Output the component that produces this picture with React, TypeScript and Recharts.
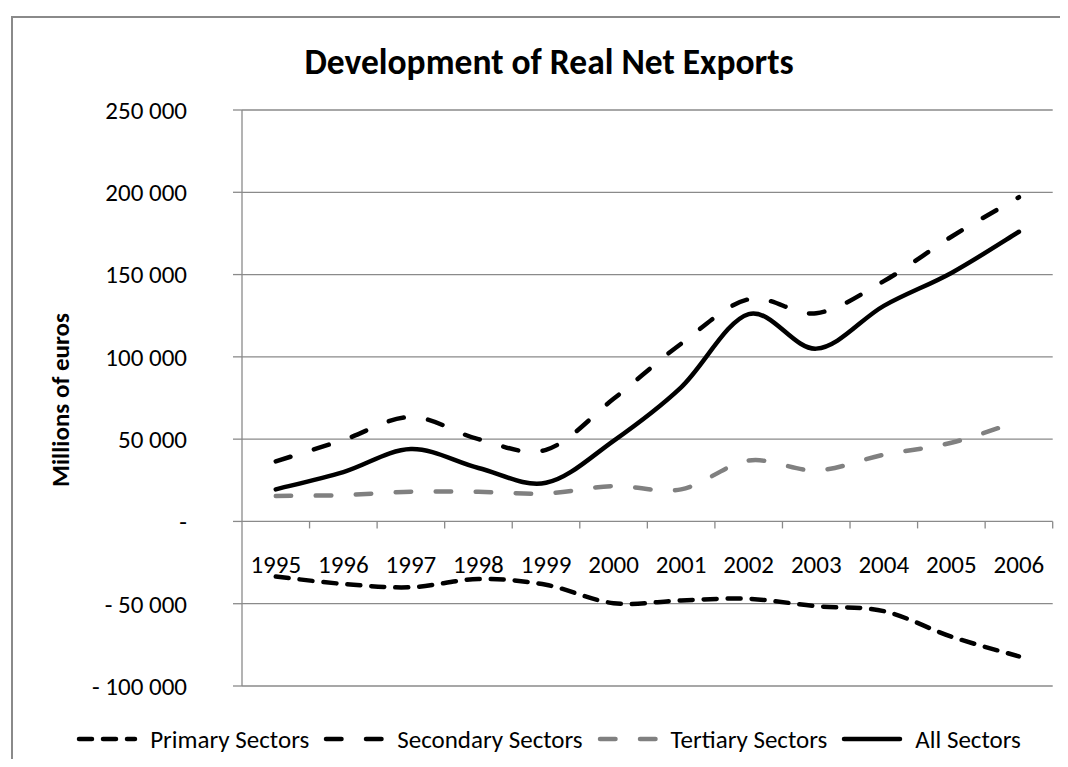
import { LineChart, Line, XAxis, YAxis, CartesianGrid, Legend } from "recharts";

const YEARS = ["1995", "1996", "1997", "1998", "1999", "2000", "2001", "2002", "2003", "2004", "2005", "2006"];
const PRIMARY = [-33500, -38000, -40000, -35000, -38500, -49700, -48000, -47000, -51500, -54500, -70000, -82000];
const SECONDARY = [36500, 49500, 63500, 50000, 43500, 74500, 108000, 135000, 126500, 146000, 173000, 197000];
const TERTIARY = [15500, 16000, 18000, 18000, 17000, 21500, 19500, 37000, 31000, 40500, 47800, 61000];
const ALL = [19500, 30000, 44000, 32500, 23500, 49000, 81500, 126000, 105000, 131000, 151000, 176000];
const Y_TICKS = [-100000, -50000, 0, 50000, 100000, 150000, 200000, 250000];

const data = YEARS.map((year, i) => ({
  year,
  primary: PRIMARY[i],
  secondary: SECONDARY[i],
  tertiary: TERTIARY[i],
  all: ALL[i],
}));

const SERIES = [
  { key: "primary", name: "Primary Sectors", color: "#000", dash: "13 11" },
  { key: "secondary", name: "Secondary Sectors", color: "#000", dash: "15.5 24.5" },
  { key: "tertiary", name: "Tertiary Sectors", color: "#808080", dash: "15.5 24.5" },
  { key: "all", name: "All Sectors", color: "#000", dash: undefined },
];

const FONT = "Carlito, Calibri, Lato, sans-serif";
const FS = 25;
const GRAY = "#8a8a8a";

const W = 1052;
const H = 751;
const MARGIN = { top: 102, right: 7.3, bottom: 13, left: 0 };
const Y_AXIS_W = 234;
const X_AXIS_H = 30;
const LEGEND_H = 30;
const PLOT_W = W - Y_AXIS_W - MARGIN.right;
const PLOT_H = H - MARGIN.top - MARGIN.bottom - X_AXIS_H - LEGEND_H;
const HALF = PLOT_W / YEARS.length / 2;
const Y_MIN = Y_TICKS[0];
const Y_MAX = Y_TICKS[Y_TICKS.length - 1];
const ZERO_Y = MARGIN.top + (PLOT_H * Y_MAX) / (Y_MAX - Y_MIN);

// smooth like excel: catmull-rom segments as cubic beziers
function excelCurve(context: any) {
  let pts: number[][] = [];
  return {
    areaStart() {},
    areaEnd() {},
    lineStart() {
      pts = [];
    },
    point(x: number, y: number) {
      pts.push([+x, +y]);
    },
    lineEnd() {
      const n = pts.length;
      if (!n) return;
      context.moveTo(pts[0][0], pts[0][1]);
      for (let i = 0; i < n - 1; i++) {
        const p0 = pts[Math.max(i - 1, 0)];
        const p1 = pts[i];
        const p2 = pts[i + 1];
        const p3 = pts[Math.min(i + 2, n - 1)];
        context.bezierCurveTo(
          p1[0] + (p2[0] - p0[0]) / 6,
          p1[1] + (p2[1] - p0[1]) / 6,
          p2[0] - (p3[0] - p1[0]) / 6,
          p2[1] - (p3[1] - p1[1]) / 6,
          p2[0],
          p2[1]
        );
      }
    },
  };
}

function formatY(v: number) {
  if (v === 0) return "-";
  const s = Math.abs(v).toString().replace(/\B(?=(\d{3})+(?!\d))/g, " ");
  return v < 0 ? "- " + s : s;
}

function YearTick(props: any) {
  const { x, payload } = props;
  return (
    <g>
      <line x1={x + HALF} x2={x + HALF} y1={ZERO_Y} y2={ZERO_Y + 7} stroke={GRAY} strokeWidth={1.3} />
      <text
        x={x}
        y={ZERO_Y + 43}
        textAnchor="middle"
        dominantBaseline="central"
        fontFamily={FONT}
        fontSize={FS}
        fill="#000"
      >
        {payload.value}
      </text>
    </g>
  );
}

function LegendContent() {
  return (
    <div
      style={{
        display: "flex",
        alignItems: "center",
        justifyContent: "center",
        height: LEGEND_H,
        fontFamily: FONT,
        fontSize: FS,
        color: "#000",
      }}
    >
      {SERIES.map((s) => (
        <div key={s.key} style={{ display: "flex", alignItems: "center", marginRight: 14 }}>
          <svg width={62} height={10}>
            <line
              x1={3}
              x2={59}
              y1={5}
              y2={5}
              stroke={s.color}
              strokeWidth={4.5}
              strokeLinecap="round"
              strokeDasharray={s.dash}
            />
          </svg>
          <span style={{ marginLeft: 12, whiteSpace: "nowrap" }}>{s.name}</span>
        </div>
      ))}
    </div>
  );
}

export default function App() {
  return (
    <div style={{ position: "relative", width: W, height: H, overflow: "hidden", background: "#fff" }}>
      {/* chart frame: only top and left edges fall inside the picture */}
      <div style={{ position: "absolute", left: 3, top: 8, width: W - 3, height: 1.5, background: GRAY }} />
      <div style={{ position: "absolute", left: 3, top: 8, width: 1.5, height: H - 8, background: GRAY }} />
      <div style={{ position: "absolute", left: 0, top: 0 }}>
        <LineChart width={W} height={H} data={data} margin={MARGIN}>
          <CartesianGrid vertical={false} stroke={GRAY} strokeWidth={1.3} />
          <XAxis
            dataKey="year"
            height={X_AXIS_H}
            axisLine={false}
            tickLine={false}
            interval={0}
            padding={{ left: HALF, right: HALF }}
            tick={<YearTick />}
          />
          <YAxis
            width={Y_AXIS_W}
            domain={[Y_MIN, Y_MAX]}
            ticks={Y_TICKS}
            interval={0}
            tickFormatter={formatY}
            axisLine={{ stroke: GRAY, strokeWidth: 1.3 }}
            tickLine={{ stroke: GRAY, strokeWidth: 1.3 }}
            tickSize={9}
            tickMargin={46}
            tick={{ fill: "#000", fontSize: FS, fontFamily: FONT }}
          />
          {SERIES.map((s) => (
            <Line
              key={s.key}
              name={s.name}
              dataKey={s.key}
              type={excelCurve as any}
              stroke={s.color}
              strokeWidth={4.5}
              strokeDasharray={s.dash}
              strokeLinecap="round"
              dot={false}
              activeDot={false}
              isAnimationActive={false}
            />
          ))}
          <Legend
            verticalAlign="bottom"
            content={<LegendContent />}
            wrapperStyle={{ top: 716, bottom: "auto", left: 6, width: 1083, height: LEGEND_H }}
          />
          <text
            x={541}
            y={66}
            textAnchor="middle"
            fontFamily={FONT}
            fontSize={35.5}
            fontWeight="bold"
            fill="#000"
          >
            Development of Real Net Exports
          </text>
          <text
            transform="translate(52, 392) rotate(-90)"
            textAnchor="middle"
            dominantBaseline="central"
            fontFamily={FONT}
            fontSize={FS}
            fontWeight="bold"
            fill="#000"
          >
            Millions of euros
          </text>
        </LineChart>
      </div>
    </div>
  );
}
